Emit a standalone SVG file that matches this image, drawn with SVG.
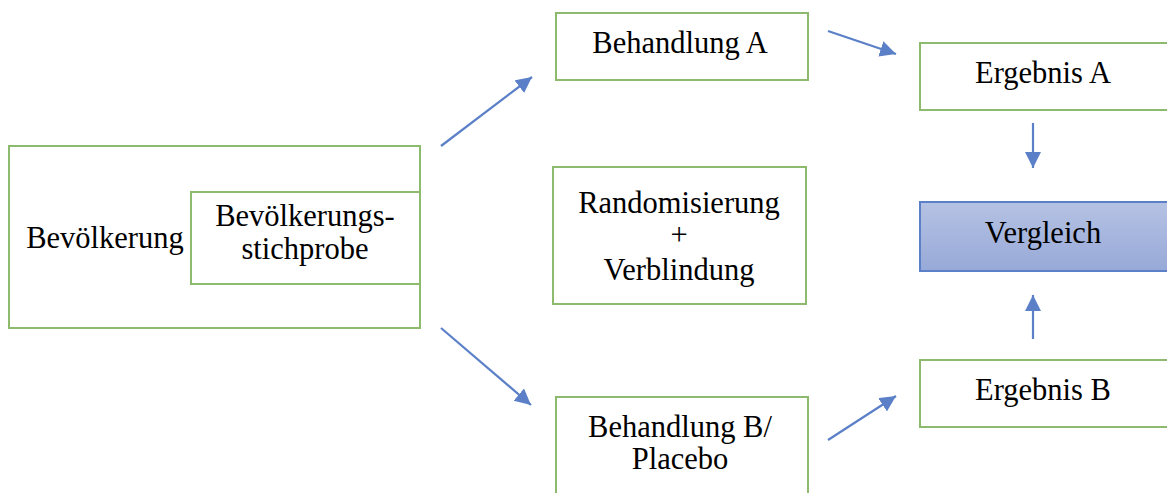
<svg xmlns="http://www.w3.org/2000/svg" width="1167" height="493" viewBox="0 0 1167 493">
<style>
.box{fill:#fff;stroke:#8dbb6e;stroke-width:2}
.t{font-family:"Liberation Serif","Times New Roman",serif;font-size:30.5px;fill:#000;text-anchor:middle}
.c{stroke:#5b80c8;stroke-width:2.2;fill:none}
</style>
<defs>
<linearGradient id="g" x1="0" y1="0" x2="0" y2="1">
<stop offset="0" stop-color="#b5c2e3"/>
<stop offset="1" stop-color="#97a9d8"/>
</linearGradient>
<marker id="ah" markerUnits="userSpaceOnUse" markerWidth="18" markerHeight="18" refX="16" refY="8" orient="auto" viewBox="0 0 18 18">
<path d="M0,0 L16,8 L0,16 z" fill="#5b80c8"/>
</marker>
</defs>
<g id="bevoelkerung">
<rect class="box" x="9" y="146" width="411" height="182"/>
<text class="t" x="105" y="248">Bevölkerung</text>
</g>
<g id="stichprobe">
<rect class="box" x="191" y="192" width="229" height="92"/>
<text class="t" x="305" y="226">Bevölkerungs-</text>
<text class="t" x="305" y="259">stichprobe</text>
</g>
<g id="behandlungA">
<rect class="box" x="556" y="13" width="252" height="67"/>
<text class="t" x="680" y="53">Behandlung A</text>
</g>
<g id="randomisierung">
<rect class="box" x="553" y="167" width="253" height="137"/>
<text class="t" x="679" y="213">Randomisierung</text>
<text class="t" x="679" y="245">+</text>
<text class="t" x="679" y="280">Verblindung</text>
</g>
<g id="behandlungB">
<rect class="box" x="556" y="397" width="252" height="110"/>
<text class="t" x="680" y="437">Behandlung B/</text>
<text class="t" x="680" y="469">Placebo</text>
</g>
<g id="ergebnisA">
<rect class="box" x="920" y="43" width="260" height="67"/>
<text class="t" x="1043" y="83">Ergebnis A</text>
</g>
<g id="vergleich">
<rect x="920" y="202" width="260" height="69" fill="url(#g)" stroke="#5b80c8" stroke-width="2"/>
<text class="t" x="1043" y="243">Vergleich</text>
</g>
<g id="ergebnisB">
<rect class="box" x="920" y="360" width="260" height="67"/>
<text class="t" x="1043" y="400">Ergebnis B</text>
</g>
<g id="connectors">
<line class="c" x1="441" y1="146" x2="532" y2="77" marker-end="url(#ah)"/>
<line class="c" x1="441" y1="328" x2="531" y2="405" marker-end="url(#ah)"/>
<line class="c" x1="828" y1="31" x2="896" y2="54" marker-end="url(#ah)"/>
<line class="c" x1="828" y1="440" x2="896" y2="396" marker-end="url(#ah)"/>
<line class="c" x1="1033" y1="123" x2="1033" y2="168" marker-end="url(#ah)"/>
<line class="c" x1="1033" y1="339" x2="1033" y2="295" marker-end="url(#ah)"/>
</g>
</svg>
